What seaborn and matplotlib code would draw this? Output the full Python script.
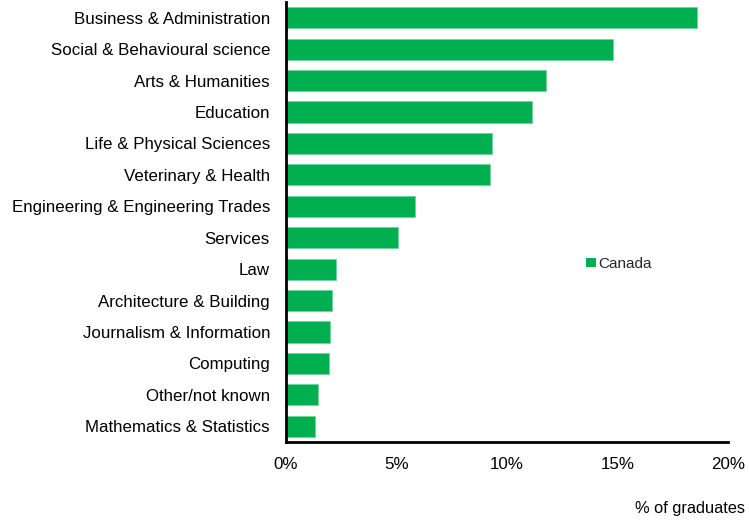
import matplotlib
matplotlib.use("Agg")
import matplotlib.pyplot as plt
import seaborn as sns
import pandas as pd
from matplotlib.ticker import PercentFormatter
from matplotlib.patches import Patch

sns.set_theme(style="white")
plt.rcParams['font.family'] = ['Liberation Sans', 'DejaVu Sans']

fields = [
    "Business & Administration",
    "Social & Behavioural science",
    "Arts & Humanities",
    "Education",
    "Life & Physical Sciences",
    "Veterinary & Health",
    "Engineering & Engineering Trades",
    "Services",
    "Law",
    "Architecture & Building",
    "Journalism & Information",
    "Computing",
    "Other/not known",
    "Mathematics & Statistics",
]
share_canada = [18.6, 14.8, 11.75, 11.15, 9.3, 9.25, 5.85, 5.05, 2.25, 2.1, 2.0, 1.95, 1.45, 1.3]
x_ticks = [0, 5, 10, 15, 20]

df = pd.DataFrame({"field": fields, "share": share_canada})
green = "#00AF50"

fig = plt.figure(figsize=(7.49, 5.2), dpi=100)
ax = fig.add_axes([286 / 749, 1 - 442 / 520, (728 - 286) / 749, 440 / 520])

sns.barplot(data=df, x="share", y="field", color=green, width=0.67,
            saturation=1, ax=ax, edgecolor="#6fd49a", linewidth=0.6)

ax.set_xlim(0, 20)
ax.set_ylim(13.5, -0.5)
ax.set_xticks(x_ticks)
ax.xaxis.set_major_formatter(PercentFormatter(decimals=0))
ax.tick_params(axis="x", length=0, labelsize=12.2, pad=11, colors="black")
ax.tick_params(axis="y", length=0, labelsize=12.2, pad=11.5, colors="black")
ax.set_xlabel("")
ax.set_ylabel("")

for side in ["top", "right"]:
    ax.spines[side].set_visible(False)
for side in ["left", "bottom"]:
    ax.spines[side].set_color("black")
    ax.spines[side].set_linewidth(2)

handle = Patch(facecolor=green, edgecolor="none", label="Canada")
ax.legend(handles=[handle], loc="center left", bbox_to_anchor=(0.666, 0.405),
          frameon=False, fontsize=11, handlelength=0.6, handleheight=0.6,
          handletextpad=0.2, borderaxespad=0)

fig.text(745 / 749, 1 - 509 / 520, "% of graduates", ha="right", va="center",
         fontsize=11.8, color="black")

fig.savefig("out.png", dpi=100)
